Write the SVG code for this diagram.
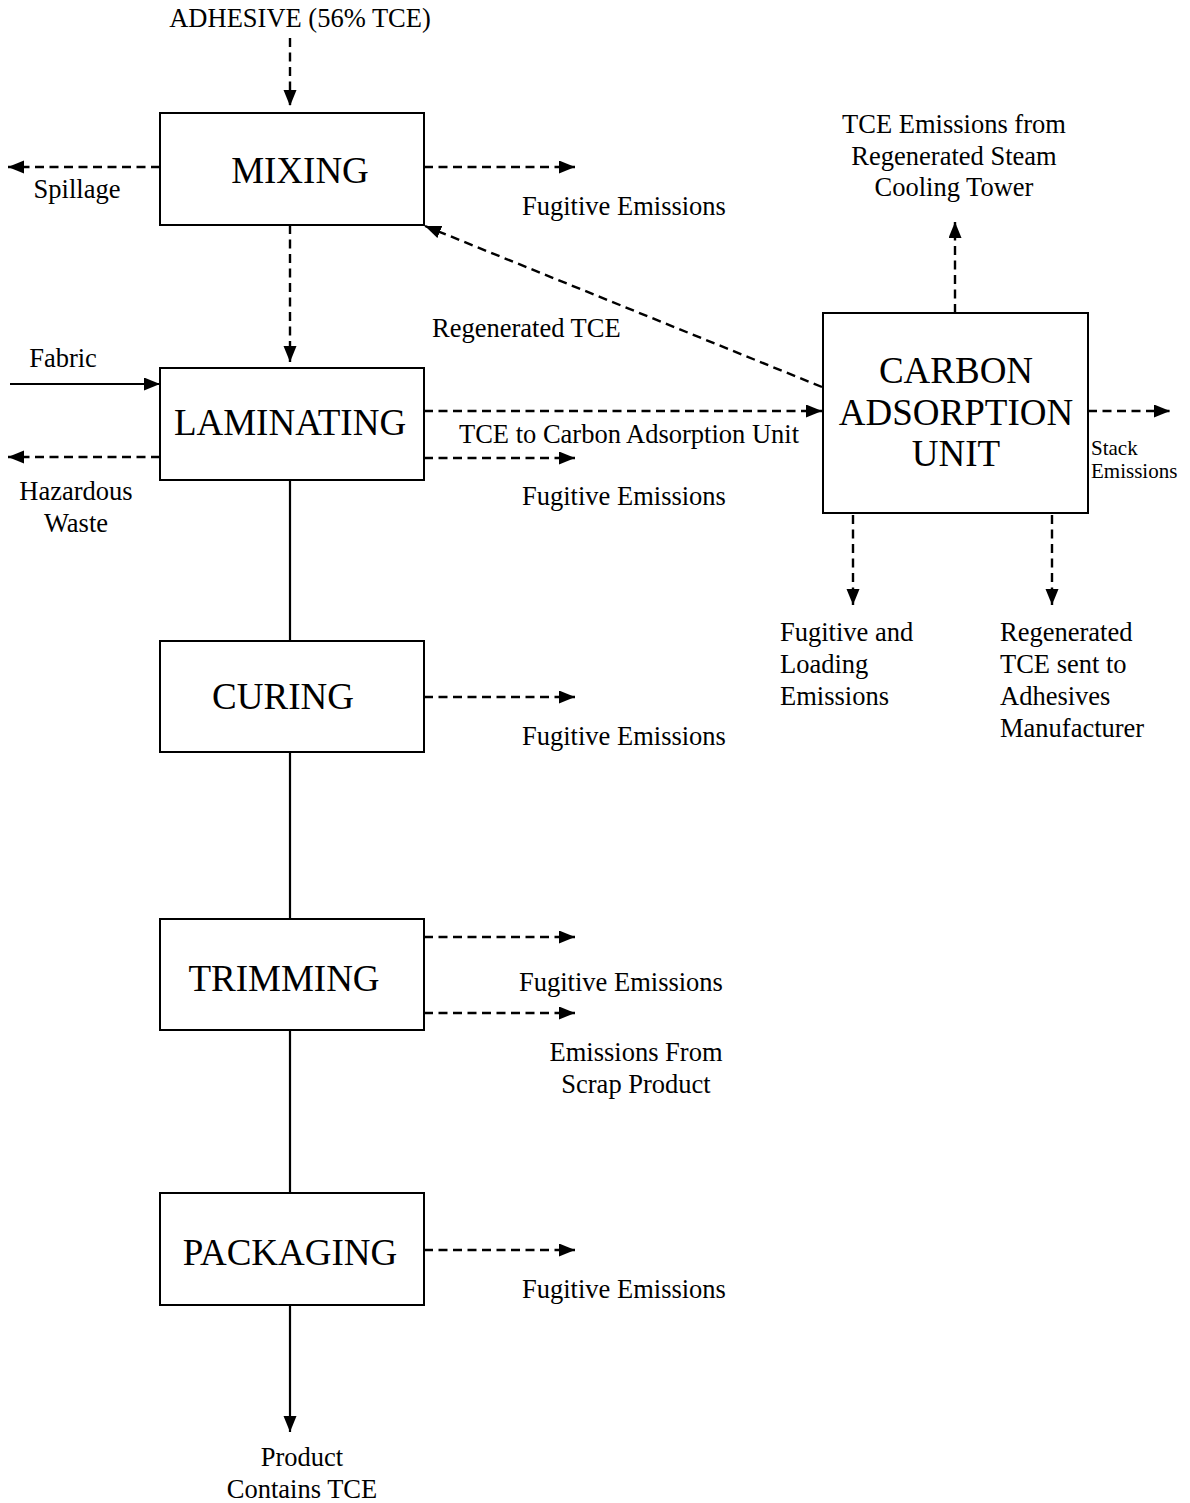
<svg xmlns="http://www.w3.org/2000/svg" width="1190" height="1503" viewBox="0 0 1190 1503">
<style>
.box{fill:#fff;stroke:#000;stroke-width:2}
.big{font-family:"Liberation Serif","Times New Roman",serif;font-size:37px;fill:#000;text-anchor:middle}
.lbl{font-family:"Liberation Serif","Times New Roman",serif;font-size:26.5px;fill:#000}
.sm{font-family:"Liberation Serif","Times New Roman",serif;font-size:21px;fill:#000}
.d{fill:none;stroke:#000;stroke-width:2.4;stroke-dasharray:9 5.5;marker-end:url(#ah)}
.s{fill:none;stroke:#000;stroke-width:2.2}
.sa{fill:none;stroke:#000;stroke-width:2.2;marker-end:url(#ah)}
.m{text-anchor:middle}
</style>
<defs>
<marker id="ah" markerUnits="userSpaceOnUse" markerWidth="17" markerHeight="14" refX="16" refY="6.5" orient="auto">
<path d="M0,0 L16,6.5 L0,13 Z" fill="#000"/>
</marker>
</defs>
<rect width="1190" height="1503" fill="#fff"/>
<g id="connectors">
<path class="d" d="M290,38 V106"/>
<path class="d" d="M160,167 H8"/>
<path class="d" d="M424,167 H575"/>
<path class="d" d="M290,225 V362"/>
<path class="sa" d="M10,384 H160"/>
<path class="d" d="M160,457 H8"/>
<path class="d" d="M424,411 H822"/>
<path class="d" d="M424,458 H575"/>
<path class="d" d="M822,387 L425,226"/>
<path class="d" d="M955,313 V222"/>
<path class="d" d="M1088,411 H1170"/>
<path class="d" d="M853,515 V605"/>
<path class="d" d="M1052,515 V605"/>
<path class="s" d="M290,480 V641"/>
<path class="d" d="M424,697 H575"/>
<path class="s" d="M290,752 V919"/>
<path class="d" d="M424,937 H575"/>
<path class="d" d="M424,1013 H575"/>
<path class="s" d="M290,1030 V1193"/>
<path class="d" d="M424,1250 H575"/>
<path class="sa" d="M290,1305 V1432"/>
</g>
<g id="mixing"><rect class="box" x="160" y="113" width="264" height="112"/><text class="big" x="300" y="183">MIXING</text></g>
<g id="laminating"><rect class="box" x="160" y="368" width="264" height="112"/><text class="big" x="290" y="435">LAMINATING</text></g>
<g id="curing"><rect class="box" x="160" y="641" width="264" height="111"/><text class="big" x="283" y="709">CURING</text></g>
<g id="trimming"><rect class="box" x="160" y="919" width="264" height="111"/><text class="big" x="284" y="991">TRIMMING</text></g>
<g id="packaging"><rect class="box" x="160" y="1193" width="264" height="112"/><text class="big" x="290" y="1265">PACKAGING</text></g>
<g id="carbon"><rect class="box" x="823" y="313" width="265" height="200"/><text class="big" x="956" y="383">CARBON</text><text class="big" x="956" y="425">ADSORPTION</text><text class="big" x="956" y="466">UNIT</text></g>
<g id="labels">
<text class="lbl m" x="300" y="27">ADHESIVE (56% TCE)</text>
<text class="lbl m" x="77" y="198">Spillage</text>
<text class="lbl" x="522" y="215">Fugitive Emissions</text>
<text class="lbl" x="432" y="337">Regenerated TCE</text>
<text class="lbl m" x="63" y="367">Fabric</text>
<text class="lbl" x="459" y="443">TCE to Carbon Adsorption Unit</text>
<text class="lbl m" x="76" y="500">Hazardous</text>
<text class="lbl m" x="76" y="532">Waste</text>
<text class="lbl" x="522" y="505">Fugitive Emissions</text>
<text class="lbl m" x="954" y="133">TCE Emissions from</text>
<text class="lbl m" x="954" y="165">Regenerated Steam</text>
<text class="lbl m" x="954" y="196">Cooling Tower</text>
<text class="sm" x="1091" y="455">Stack</text>
<text class="sm" x="1091" y="478">Emissions</text>
<text class="lbl" x="780" y="641">Fugitive and</text>
<text class="lbl" x="780" y="673">Loading</text>
<text class="lbl" x="780" y="705">Emissions</text>
<text class="lbl" x="1000" y="641">Regenerated</text>
<text class="lbl" x="1000" y="673">TCE sent to</text>
<text class="lbl" x="1000" y="705">Adhesives</text>
<text class="lbl" x="1000" y="737">Manufacturer</text>
<text class="lbl" x="522" y="745">Fugitive Emissions</text>
<text class="lbl" x="519" y="991">Fugitive Emissions</text>
<text class="lbl m" x="636" y="1061">Emissions From</text>
<text class="lbl m" x="636" y="1093">Scrap Product</text>
<text class="lbl" x="522" y="1298">Fugitive Emissions</text>
<text class="lbl m" x="302" y="1466">Product</text>
<text class="lbl m" x="302" y="1498">Contains TCE</text>
</g>
</svg>
